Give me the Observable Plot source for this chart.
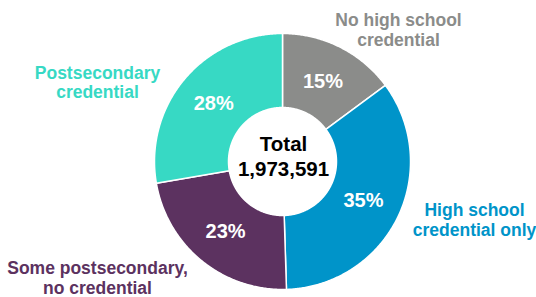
<!DOCTYPE html>
<html>
<head>
<meta charset="utf-8">
<script src="https://cdn.jsdelivr.net/npm/d3@7"></script>
<script src="https://cdn.jsdelivr.net/npm/@observablehq/plot@0.6"></script>
<style>
  html, body { margin: 0; padding: 0; background: #fff; }
  #chart { width: 536px; height: 297px; }
</style>
</head>
<body>
<div id="chart"></div>
<script>
// ---- data ----
const categories = ["No high school credential", "High school credential only", "Some postsecondary, no credential", "Postsecondary credential"];
const labelTexts = ["No high school\ncredential", "High school\ncredential only", "Some postsecondary,\nno credential", "Postsecondary\ncredential"];
const shares = [15, 35, 23, 28];
const totalTitle = "Total";
const totalValue = 1973591;
const colors = ["#8b8c8a", "#0094c9", "#5c3260", "#37d9c4"];

// ---- layout ----
const W = 536, H = 297;
const cx = 282, cy = 161, rInner = 54, rOuter = 128, rLabel = 90;
const outerLabelPos = [[398, 29.4], [474, 218.9], [97, 277.4], [97, 81.6]];

const arcs = d3.pie().sort(null).value(d => d)(shares);
const px = (r, a) => cx + r * Math.sin(a);
const py = (r, a) => cy - r * Math.cos(a);

const slicePoints = [];
arcs.forEach((a, i) => {
  const n = Math.max(2, Math.ceil((a.endAngle - a.startAngle) / (Math.PI / 360)));
  for (let k = 0; k <= n; k++) {
    const t = a.startAngle + (a.endAngle - a.startAngle) * k / n;
    slicePoints.push({cat: categories[i], x: px(rOuter, t), y: py(rOuter, t)});
  }
  for (let k = n; k >= 0; k--) {
    const t = a.startAngle + (a.endAngle - a.startAngle) * k / n;
    slicePoints.push({cat: categories[i], x: px(rInner, t), y: py(rInner, t)});
  }
});

const pctLabels = arcs.map((a, i) => {
  const m = (a.startAngle + a.endAngle) / 2;
  return {text: shares[i] + "%", x: px(rLabel, m), y: py(rLabel, m)};
});
const outerLabels = labelTexts.map((t, i) => ({text: t, cat: categories[i], x: outerLabelPos[i][0], y: outerLabelPos[i][1]}));
const centerLabel = [{text: totalTitle + "\n" + d3.format(",")(totalValue), x: cx + 1, y: cy - 6}];

const font = "'Liberation Sans', Arial, sans-serif";
const chart = Plot.plot({
  width: W, height: H,
  margin: 0,
  x: {domain: [0, W], range: [0, W], axis: null},
  y: {domain: [0, H], range: [0, H], axis: null},
  color: {domain: categories, range: colors},
  style: {fontFamily: font, background: "#fff"},
  marks: [
    Plot.line(slicePoints, {x: "x", y: "y", z: "cat", fill: "cat", stroke: "#fff", strokeWidth: 1.5, curve: "linear-closed"}),
    Plot.text(pctLabels, {x: "x", y: "y", text: "text", fill: "#fff", fontSize: 20, fontWeight: "bold", fontFamily: font}),
    Plot.text(centerLabel, {x: "x", y: "y", text: "text", fill: "#000", fontSize: 20.5, fontWeight: "bold", lineHeight: 25 / 20.5, fontFamily: font}),
    Plot.text(outerLabels, {x: "x", y: "y", text: "text", fill: "cat", fontSize: 17.5, fontWeight: "bold", lineHeight: 20 / 17.5, fontFamily: font})
  ]
});
document.getElementById("chart").appendChild(chart);
</script>
</body>
</html>
